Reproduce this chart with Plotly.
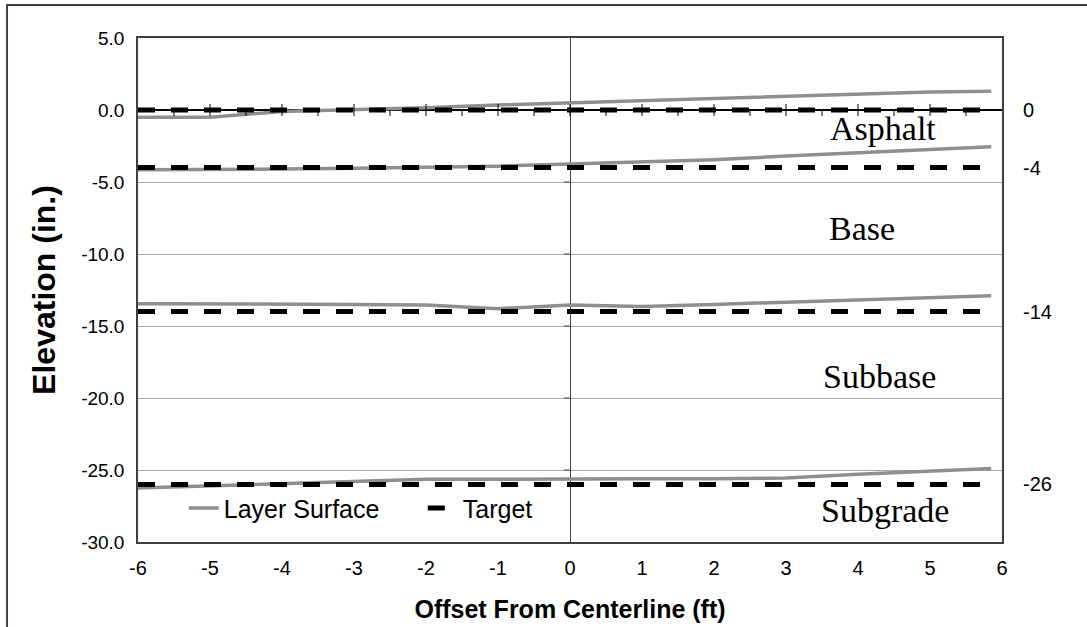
import plotly.graph_objects as go

# ---- data ----
offset_ft = [-6, -5, -4, -3, -2, -1, 0, 1, 2, 3, 4, 5, 5.85]
asphalt_surface = [-0.5, -0.5, -0.1, 0.0, 0.15, 0.35, 0.5, 0.7, 0.85, 1.0, 1.1, 1.25, 1.3]
base_surface = [-4.15, -4.15, -4.1, -4.05, -4.0, -3.9, -3.75, -3.6, -3.45, -3.2, -2.95, -2.75, -2.55]
subbase_surface = [-13.45, -13.45, -13.5, -13.5, -13.55, -13.8, -13.55, -13.65, -13.5, -13.35, -13.2, -13.05, -12.9]
subgrade_surface = [-26.25, -26.1, -25.9, -25.75, -25.65, -25.65, -25.6, -25.6, -25.6, -25.55, -25.3, -25.1, -24.9]
surfaces = [asphalt_surface, base_surface, subbase_surface, subgrade_surface]

target_depths = [0, -4, -14, -26]
target_labels = ["0", "-4", "-14", "-26"]

layer_names = ["Asphalt", "Base", "Subbase", "Subgrade"]
layer_label_x = [4.35, 4.05, 4.3, 4.37]
layer_label_y = [-1.25, -8.2, -18.5, -27.8]

x_ticks = [-6, -5, -4, -3, -2, -1, 0, 1, 2, 3, 4, 5, 6]
x_tick_text = ["-6", "-5", "-4", "-3", "-2", "-1", "0", "1", "2", "3", "4", "5", "6"]
x_minor = [-5.5, -4.5, -3.5, -2.5, -1.5, -0.5, 0.5, 1.5, 2.5, 3.5, 4.5, 5.5]
y_ticks = [-30, -25, -20, -15, -10, -5, 0, 5]
y_tick_text = ["-30.0", "-25.0", "-20.0", "-15.0", "-10.0", "-5.0", "0.0", "5.0"]

fig = go.Figure()

for i, s in enumerate(surfaces):
    fig.add_trace(go.Scatter(
        x=offset_ft, y=s, mode="lines", name="Layer Surface",
        line=dict(color="#8f8f8f", width=3.5), showlegend=(i == 0),
        legendrank=1))

for i, d in enumerate(target_depths):
    fig.add_trace(go.Scatter(
        x=[offset_ft[0], offset_ft[-1]], y=[d, d], mode="lines", name="Target",
        line=dict(color="black", width=5, dash="17px,16px"), showlegend=(i == 0),
        legendrank=2))

shapes = []
# ticks on the horizontal axis line at y=0
for xv in x_ticks[1:-1]:
    shapes.append(dict(type="line", xref="x", yref="y", x0=xv, x1=xv,
                       ysizemode="pixel", yanchor=0, y0=-6, y1=6,
                       line=dict(color="black", width=1)))
for xv in x_minor:
    shapes.append(dict(type="line", xref="x", yref="y", x0=xv, x1=xv,
                       ysizemode="pixel", yanchor=0, y0=-6, y1=0,
                       line=dict(color="black", width=1)))
# ticks on the vertical axis line at x=0
for yv in y_ticks[1:-1]:
    shapes.append(dict(type="line", xref="x", yref="y", y0=yv, y1=yv,
                       xsizemode="pixel", xanchor=0, x0=-6, x1=0,
                       line=dict(color="#404040", width=1)))
# outer frame
shapes.append(dict(type="rect", xref="paper", yref="paper",
                   x0=-0.1516, x1=1.2, y0=-0.3, y1=1.0655,
                   line=dict(color="#404040", width=2), layer="below"))

annotations = []
for name, lx, ly in zip(layer_names, layer_label_x, layer_label_y):
    annotations.append(dict(x=lx, y=ly, xref="x", yref="y", text=name,
                            showarrow=False, xanchor="center", yanchor="middle",
                            font=dict(family="Liberation Serif", size=34, color="black")))
for d, lab in zip(target_depths, target_labels):
    annotations.append(dict(x=1.022, y=d, xref="paper", yref="y", text=lab,
                            showarrow=False, xanchor="left", yanchor="middle",
                            font=dict(family="Liberation Sans", size=20, color="black")))

fig.update_layout(
    width=1087, height=627,
    margin=dict(l=138, r=85, t=38, b=85),
    paper_bgcolor="white", plot_bgcolor="white",
    shapes=shapes, annotations=annotations,
    showlegend=True,
    legend=dict(orientation="h", x=0.053, y=0.067, xanchor="left", yanchor="middle",
                bgcolor="rgba(0,0,0,0)", entrywidth=194,
                font=dict(family="Liberation Sans", size=25, color="black")),
    xaxis=dict(range=[-6, 6], tickvals=x_ticks, ticktext=x_tick_text, ticks="", showgrid=False,
               automargin=False,
               zeroline=True, zerolinecolor="#404040", zerolinewidth=1,
               showline=True, mirror=True, linecolor="#404040", linewidth=1.5,
               ticklabelstandoff=7,
               tickfont=dict(family="Liberation Sans", size=20, color="black"),
               title=dict(text="<b>Offset From Centerline (ft)</b>", standoff=23,
                          font=dict(family="Liberation Sans", size=25, color="black"))),
    yaxis=dict(range=[-30, 5], tickvals=y_ticks, ticktext=y_tick_text, ticks="",
               automargin=False,
               showgrid=True, gridcolor="#a6a6a6", gridwidth=1,
               zeroline=True, zerolinecolor="black", zerolinewidth=1.5,
               showline=True, mirror=True, linecolor="#404040", linewidth=1.5,
               ticklabelstandoff=8,
               tickfont=dict(family="Liberation Sans", size=19, color="black"),
               title=dict(text="<b>Elevation (in.)</b>", standoff=16,
                          font=dict(family="Liberation Sans", size=32, color="black"))),
)

fig.write_html("out.html", config={"displayModeBar": False},
               post_script="document.body.style.margin='0';")
